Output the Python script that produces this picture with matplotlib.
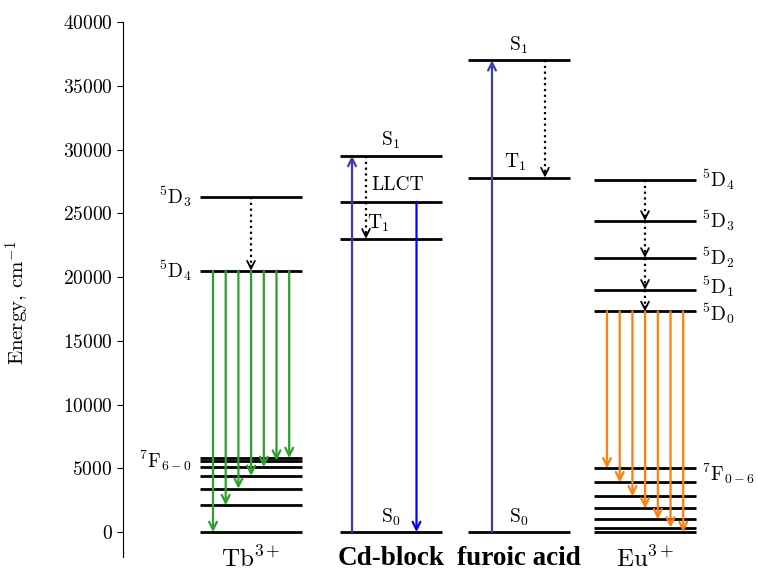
import matplotlib
matplotlib.use("Agg")
import matplotlib.pyplot as plt

plt.rcParams['font.family'] = ['cmr10', 'DejaVu Serif']
plt.rcParams['mathtext.fontset'] = 'cm'
plt.rcParams['axes.formatter.use_mathtext'] = True

# ---- data (energies in cm^-1) ----
tb_D = [26300, 20500]                                   # 5D3, 5D4
tb_F = [0, 2100, 3400, 4400, 5100, 5600, 5800]          # 7F6 ... 7F0
cd_levels = {'S1': 29500, 'LLCT': 25900, 'T1': 23000, 'S0': 0}
fa_levels = {'S1': 37000, 'T1': 27800, 'S0': 0}
eu_D = [27600, 24400, 21500, 19000, 17300]              # 5D4 ... 5D0
eu_F = [5000, 3900, 2800, 1850, 1000, 350, 0]           # 7F6 ... 7F0
group_labels = ['Tb$^{3+}$', 'Cd-block', 'furoic acid', 'Eu$^{3+}$']
yticks = [0, 5000, 10000, 15000, 20000, 25000, 30000, 35000, 40000]

# ---- layout ----
W, H = 758, 573
fig = plt.figure(figsize=(W / 100, H / 100), dpi=100)
ax = fig.add_axes([123 / W, 1 - 557 / H, 1 - 123 / W, (557 - 22) / H])
ax.set_xlim(123, 758)
ax.set_ylim(-1960, 40000)
for s in ['top', 'right', 'bottom']:
    ax.spines[s].set_visible(False)
ax.spines['left'].set_linewidth(0.8)
ax.set_xticks([])
ax.set_yticks(yticks)
ax.tick_params(axis='y', labelsize=14, length=4, width=0.8)
ax.set_ylabel('Energy, cm$^{-1}$', fontsize=15)
ax.yaxis.set_label_coords(-0.143, 0.475)

centers = [251, 391, 519, 645]
hw = 51
LW = 2.0
GREEN = '#2ca02c'
ORANGE = '#ff7f0e'
PURPLE = '#3c3caa'
BLUE = '#0000ff'
FS = 14


def level(c, e):
    ax.hlines(e, c - hw, c + hw, color='black', lw=LW)


def arrow(x, y0, y1, color, lw=1.6):
    ax.annotate('', xy=(x, y1), xytext=(x, y0),
                arrowprops=dict(arrowstyle='->', color=color, lw=lw,
                                shrinkA=0, shrinkB=0, mutation_scale=14))


def dotted(x, y0, y1):
    ax.plot([x, x], [y0, y1 + 250], color='black', lw=1.6, ls=(0, (1, 1.6)))
    ax.annotate('', xy=(x, y1), xytext=(x, y1 + 400),
                arrowprops=dict(arrowstyle='->', color='black', lw=1.3,
                                shrinkA=0, shrinkB=0, mutation_scale=14))


# ---- Tb3+ ----
c = centers[0]
for e in tb_D + tb_F:
    level(c, e)
dotted(c, tb_D[0], tb_D[1])
for i, e in enumerate(tb_F):
    arrow(c - 38 + i * 12.7, tb_D[1], e, GREEN)
ax.text(c - hw - 8, tb_D[0], '$^5$D$_3$', ha='right', va='center', fontsize=FS)
ax.text(c - hw - 8, tb_D[1], '$^5$D$_4$', ha='right', va='center', fontsize=FS)
ax.text(c - hw - 8, max(tb_F) - 200, '$^7$F$_{6-0}$', ha='right', va='center', fontsize=FS)

# ---- Cd-block ----
c = centers[1]
for e in cd_levels.values():
    level(c, e)
arrow(c - 39, cd_levels['S0'], cd_levels['S1'], PURPLE)
dotted(c - 25, cd_levels['S1'], cd_levels['T1'])
arrow(c + 25.5, cd_levels['LLCT'], cd_levels['S0'], BLUE)
ax.text(c, cd_levels['S1'] + 350, 'S$_1$', ha='center', va='bottom', fontsize=FS)
ax.text(c + 7, cd_levels['LLCT'] + 600, 'LLCT', ha='center', va='bottom', fontsize=FS)
ax.text(c - 13, cd_levels['T1'] + 350, 'T$_1$', ha='center', va='bottom', fontsize=FS)
ax.text(c, cd_levels['S0'] + 350, 'S$_0$', ha='center', va='bottom', fontsize=FS)

# ---- furoic acid ----
c = centers[2]
for e in fa_levels.values():
    level(c, e)
arrow(c - 27, fa_levels['S0'], fa_levels['S1'], PURPLE)
dotted(c + 26, fa_levels['S1'], fa_levels['T1'])
ax.text(c, fa_levels['S1'] + 350, 'S$_1$', ha='center', va='bottom', fontsize=FS)
ax.text(c - 4, fa_levels['T1'] + 350, 'T$_1$', ha='center', va='bottom', fontsize=FS)
ax.text(c, fa_levels['S0'] + 350, 'S$_0$', ha='center', va='bottom', fontsize=FS)

# ---- Eu3+ ----
c = centers[3]
for e in eu_D + eu_F:
    level(c, e)
for a, b in zip(eu_D[:-1], eu_D[1:]):
    dotted(c, a, b)
for i, e in enumerate(eu_F):
    arrow(c - 38 + i * 12.7, eu_D[-1], e, ORANGE)
for e, n in zip(eu_D, [4, 3, 2, 1, 0]):
    dy = {1: 250, 0: -150}.get(n, 0)
    ax.text(c + hw + 6, e + dy, f'$^5$D$_{n}$', ha='left', va='center', fontsize=FS)
ax.text(c + hw + 6, max(eu_F) - 400, '$^7$F$_{0-6}$', ha='left', va='center', fontsize=FS)

# ---- group labels ----
for cx, lab in zip(centers, group_labels):
    if '$' in lab:
        ax.text(cx, -1100, lab, ha='center', va='top', fontsize=18)
    else:
        ax.text(cx, -1100, lab, ha='center', va='top', fontsize=19.5,
                family='Liberation Serif', fontweight='bold')

fig.savefig('out.png', dpi=100)
